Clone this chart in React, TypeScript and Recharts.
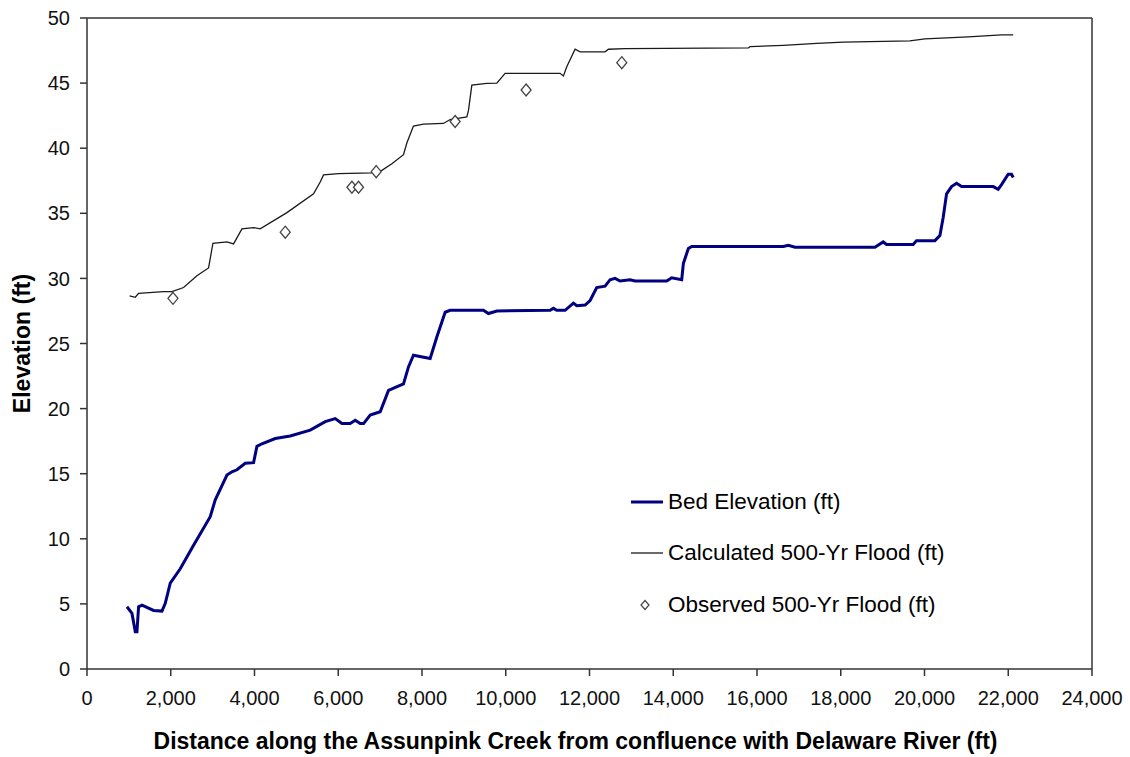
import React from "react";
import {
  ComposedChart,
  Line,
  Scatter,
  XAxis,
  YAxis,
  ReferenceLine,
  Label,
} from "recharts";

// distances (ft) and elevations (ft)
const bedX = [
  955, 1074, 1153, 1193, 1232, 1313, 1590, 1790, 1869, 1988, 2227, 2545, 2943,
  3063, 3342, 3461, 3581, 3779, 3978, 4058, 4177, 4495, 4853, 5331, 5689, 5928,
  6087, 6285, 6405, 6524, 6604, 6763, 7002, 7200, 7558, 7677, 7796, 8195, 8354,
  8553, 8672, 9467, 9586, 9787, 11059, 11138, 11218, 11417, 11616, 11696, 11895,
  12014, 12173, 12372, 12491, 12610, 12730, 12968, 13088, 13844, 13963, 14202,
  14242, 14361, 14441, 16629, 16748, 16907, 18815, 19014, 19094, 19730, 19810,
  20248, 20368, 20447, 20527, 20646, 20766, 20885, 21641, 21760, 21840, 21999,
  22078, 22118,
];
const bedY = [
  4.78, 4.27, 2.87, 2.87, 4.78, 4.9, 4.5, 4.45, 5.04, 6.6, 7.7, 9.5, 11.7, 13,
  14.9, 15.15, 15.3, 15.8, 15.85, 17.1, 17.3, 17.7, 17.9, 18.35, 19.0, 19.23,
  18.85, 18.85, 19.1, 18.85, 18.85, 19.5, 19.76, 21.4, 21.9, 23.2, 24.1, 23.85,
  25.5, 27.4, 27.55, 27.55, 27.3, 27.5, 27.55, 27.7, 27.55, 27.55, 28.1, 27.9,
  27.95, 28.3, 29.3, 29.4, 29.9, 30.0, 29.8, 29.9, 29.8, 29.8, 30.05, 29.9,
  31.15, 32.3, 32.45, 32.45, 32.55, 32.4, 32.4, 32.8, 32.6, 32.6, 32.9, 32.9,
  33.3, 34.7, 36.5, 37.05, 37.3, 37.05, 37.05, 36.85, 37.2, 38.0, 38.0, 37.75,
];

const calcX = [
  1017, 1153, 1232, 1829, 2029, 2306, 2625, 2903, 3007, 3342, 3500, 3700, 3978,
  4137, 4774, 5410, 5569, 5649, 6006, 6803, 7042, 7280, 7558, 7638, 7796, 8035,
  8512, 8672, 9071, 9110, 9190, 9548, 9787, 9985, 11298, 11377, 11457, 11656,
  11775, 12372, 12452, 12849, 15794, 15833, 16629, 17425, 18061, 19651, 20010,
  21044, 21840, 22118,
];
const calcY = [
  28.65, 28.55, 28.85, 28.98, 28.98, 29.3, 30.2, 30.8, 32.7, 32.8, 32.65, 33.8,
  33.9, 33.8, 35.05, 36.5, 37.4, 37.95, 38.05, 38.1, 38.3, 38.8, 39.5, 40.4,
  41.7, 41.85, 41.9, 42.2, 42.4, 42.9, 44.85, 44.98, 45.0, 45.75, 45.75, 45.55,
  46.26, 47.6, 47.4, 47.4, 47.6, 47.65, 47.7, 47.8, 47.9, 48.05, 48.15, 48.25,
  48.4, 48.55, 48.7, 48.7,
];

const obsX = [2053, 4734, 6326, 6484, 6906, 8791, 10486, 12771];
const obsY = [28.47, 33.55, 37.0, 37.0, 38.2, 42.05, 44.47, 46.57];

const xTicks = [0, 2000, 4000, 6000, 8000, 10000, 12000, 14000, 16000, 18000, 20000, 22000, 24000];
const yTicks = [0, 5, 10, 15, 20, 25, 30, 35, 40, 45, 50];

const bed = bedX.map((x, i) => ({ x, y: bedY[i] }));
const calc = calcX.map((x, i) => ({ x, y: calcY[i] }));
const obs = obsX.map((x, i) => ({ x, y: obsY[i] }));

const FONT = "'Liberation Sans', Arial, sans-serif";
const AXIS = "#333";

const Diamond = (props: any) => {
  const { cx, cy } = props;
  if (cx == null || cy == null) return null;
  return (
    <path
      d={`M${cx},${cy - 6} L${cx + 5},${cy} L${cx},${cy + 6} L${cx - 5},${cy} Z`}
      fill="#fff"
      stroke="#444"
      strokeWidth={1.3}
    />
  );
};

const legendRow = (y: number): React.CSSProperties => ({
  position: "absolute",
  left: 630,
  top: y - 14,
  height: 28,
  display: "flex",
  alignItems: "center",
  whiteSpace: "nowrap",
});

export default function App() {
  return (
    <div style={{ position: "absolute", left: 0, top: 0, width: 1130, height: 757, background: "#fff", fontFamily: FONT }}>
      <ComposedChart
        width={1130}
        height={757}
        margin={{ top: 18, right: 38, bottom: 0, left: 0 }}
      >
        <XAxis
          dataKey="x"
          type="number"
          domain={[0, 24000]}
          ticks={xTicks}
          allowDataOverflow
          height={88}
          tickSize={7}
          tickMargin={15}
          stroke={AXIS}
          strokeWidth={1.5}
          tick={{ fill: "#111", fontSize: 20, fontFamily: FONT }}
          tickFormatter={(v: number) => v.toLocaleString("en-US")}
        >
          <Label
            content={(p: any) => {
              const vb = p.viewBox;
              return (
                <text
                  x={vb.x + vb.width / 2 - 14}
                  y={vb.y + vb.height - 8}
                  textAnchor="middle"
                  fontFamily={FONT}
                  fontWeight="bold"
                  fontSize={23}
                  fill="#000"
                >
                  Distance along the Assunpink Creek from confluence with Delaware River (ft)
                </text>
              );
            }}
          />
        </XAxis>
        <YAxis
          type="number"
          domain={[0, 50]}
          ticks={yTicks}
          width={87}
          tickSize={7}
          tickMargin={10}
          stroke={AXIS}
          strokeWidth={1.5}
          tick={{ fill: "#111", fontSize: 20, fontFamily: FONT }}
        >
          <Label
            content={(p: any) => {
              const vb = p.viewBox;
              const cx = 22;
              const cy = vb.y + vb.height / 2;
              return (
                <text
                  x={cx}
                  y={cy}
                  transform={`rotate(-90 ${cx} ${cy})`}
                  textAnchor="middle"
                  dominantBaseline="central"
                  fontFamily={FONT}
                  fontWeight="bold"
                  fontSize={23}
                  fill="#000"
                >
                  Elevation (ft)
                </text>
              );
            }}
          />
        </YAxis>
        <ReferenceLine y={50} stroke={AXIS} strokeWidth={1.5} />
        <ReferenceLine x={24000} stroke={AXIS} strokeWidth={1.5} />
        <Line
          data={bed}
          dataKey="y"
          type="linear"
          stroke="#000080"
          strokeWidth={3}
          dot={false}
          activeDot={false}
          isAnimationActive={false}
        />
        <Line
          data={calc}
          dataKey="y"
          type="linear"
          stroke="#1a1a1a"
          strokeWidth={1.3}
          dot={false}
          activeDot={false}
          isAnimationActive={false}
        />
        <Scatter data={obs} dataKey="y" shape={<Diamond />} isAnimationActive={false} />
      </ComposedChart>

      <div style={{ fontSize: 22.5, color: "#000" }}>
        <div style={legendRow(502)}>
          <svg width={38} height={10}>
            <line x1={1} y1={5} x2={33} y2={5} stroke="#000080" strokeWidth={3} />
          </svg>
          <span>Bed Elevation (ft)</span>
        </div>
        <div style={legendRow(553)}>
          <svg width={38} height={10}>
            <line x1={1} y1={5} x2={33} y2={5} stroke="#1a1a1a" strokeWidth={1.3} />
          </svg>
          <span>Calculated 500-Yr Flood (ft)</span>
        </div>
        <div style={legendRow(605)}>
          <svg width={38} height={14}>
            <path d="M15,2.5 L19,7 L15,11.5 L11,7 Z" fill="#fff" stroke="#444" strokeWidth={1.2} />
          </svg>
          <span>Observed 500-Yr Flood (ft)</span>
        </div>
      </div>
    </div>
  );
}
